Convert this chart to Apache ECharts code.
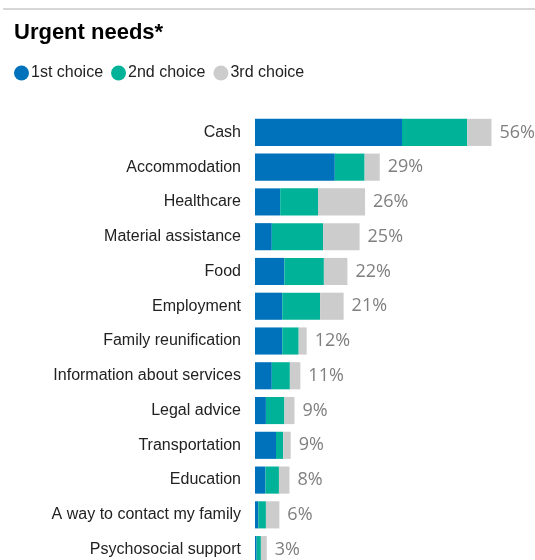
<!DOCTYPE html>
<html>
<head>
<meta charset="utf-8">
<script src="https://cdn.jsdelivr.net/npm/echarts@6/dist/echarts.min.js"></script>
<style>
html,body{margin:0;padding:0;background:#fff;}
#chart{width:535px;height:560px;}
</style>
</head>
<body>
<div id="chart"></div>
<script>
const categories = ["Cash","Accommodation","Healthcare","Material assistance","Food","Employment","Family reunification","Information about services","Legal advice","Transportation","Education","A way to contact my family","Psychosocial support"];
const firstChoice  = [35, 19, 6, 4, 7, 6.5, 6.5, 4, 2.6, 5, 2.5, 0.8, 0.4];
const secondChoice = [15.5, 7.1, 9, 12.2, 9.4, 9, 3.9, 4.3, 4.4, 1.7, 3.2, 1.8, 1];
const thirdChoice  = [5.8, 3.6, 11.2, 8.7, 5.6, 5.6, 1.9, 2.5, 2.4, 1.8, 2.5, 3.2, 1.4];
const totalLabels  = ["56%","29%","26%","25%","22%","21%","12%","11%","9%","9%","8%","6%","3%"];
const seriesNames  = ["1st choice","2nd choice","3rd choice"];
const colors = ["#0072BC","#00B398","#CCCCCC"];

const chart = echarts.init(document.getElementById('chart'), null, {renderer:'canvas'});
const FONT = '"Liberation Sans", Arial, sans-serif';

function mk(i, data, withLabel){
  const s = {
    name: seriesNames[i],
    type: 'bar',
    stack: 'total',
    data: data,
    barCategoryGap: '22%',
    itemStyle: {color: colors[i]},
    emphasis: {disabled: true},
    animation: false
  };
  if (withLabel) {
    s.label = {
      show: true,
      position: 'right',
      distance: 8,
      formatter: p => totalLabels[p.dataIndex],
      color: '#7f7f7f',
      fontSize: 18,
      fontFamily: '"Open Sans", "Liberation Sans", sans-serif'
    };
  }
  return s;
}

chart.setOption({
  animation: false,
  color: colors,
  graphic: [{
    type: 'line',
    shape: {x1: 3, y1: 9, x2: 535, y2: 9},
    style: {stroke: '#c8c8c8', lineWidth: 1.5}
  }],
  title: {
    text: 'Urgent needs*',
    left: 14,
    top: 22,
    padding: 0,
    textStyle: {fontFamily: FONT, fontWeight: 'bold', fontSize: 22, color: '#000'}
  },
  legend: {
    left: 14,
    top: 65,
    padding: 0,
    icon: 'circle',
    itemWidth: 15,
    itemHeight: 15,
    itemGap: 8,
    data: seriesNames,
    textStyle: {fontFamily: FONT, fontSize: 16, color: '#222', padding: [0,0,0,-3]}
  },
  grid: {left: 255, top: 115, width: 252, height: 452, containLabel: false, outerBoundsMode: 'none'},
  xAxis: {
    type: 'value', min: 0, max: 60, show: false
  },
  yAxis: {
    type: 'category',
    data: categories,
    inverse: true,
    axisLine: {show: false},
    axisTick: {show: false},
    axisLabel: {margin: 14, fontFamily: FONT, fontSize: 16, color: '#222'}
  },
  series: [
    mk(0, firstChoice, false),
    mk(1, secondChoice, false),
    mk(2, thirdChoice, true)
  ]
});
</script>
</body>
</html>
